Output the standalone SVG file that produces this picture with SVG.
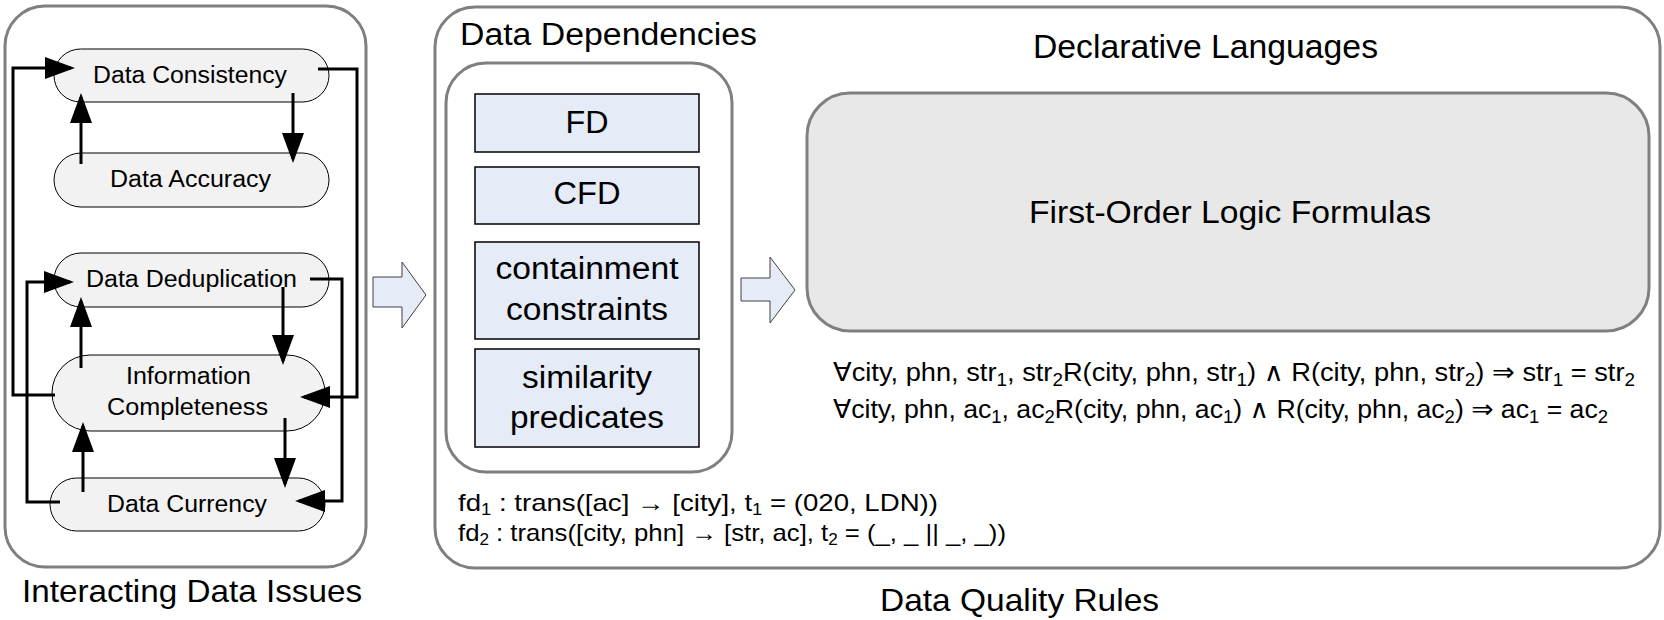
<svg xmlns="http://www.w3.org/2000/svg" width="1664" height="620" viewBox="0 0 1664 620">
<style>
text{font-family:"Liberation Sans",Arial,sans-serif;fill:#000}
.frame{fill:#fff;stroke:#7f7f7f;stroke-width:3}
.pill{fill:#f2f2f2;stroke:#000;stroke-width:1}
.dep{fill:#e5ebf7;stroke:#000;stroke-width:1.5}
.blk{fill:#e5ebf7;stroke:#404040;stroke-width:1}
.con{fill:none;stroke:#000;stroke-width:3;marker-end:url(#ah)}
.pt{font-size:23px}
.dt{font-size:31px;text-anchor:middle}
.math{font-family:"Liberation Sans","DejaVu Sans",sans-serif;font-size:26px}
.fdl{font-family:"Liberation Sans","DejaVu Sans",sans-serif;font-size:24px}
</style>
<defs>
<marker id="ah" markerUnits="userSpaceOnUse" markerWidth="31" markerHeight="22" refX="26" refY="11" orient="auto">
<path d="M0,0 L30,11 L0,22 Z" fill="#000"/>
</marker>
</defs>
<rect width="1664" height="620" fill="#fff"/>

<g id="issues-frame">
<rect class="frame" x="5" y="6" width="361" height="561" rx="40"/>
<text x="22" y="602" font-size="32" textLength="340" lengthAdjust="spacingAndGlyphs">Interacting Data Issues</text>
</g>

<g id="data-consistency">
<rect class="pill" x="54" y="49" width="275" height="53" rx="26.5"/>
<text class="pt" x="93" y="83" textLength="194" lengthAdjust="spacingAndGlyphs">Data Consistency</text>
</g>
<g id="data-accuracy">
<rect class="pill" x="54" y="153" width="275" height="54" rx="27"/>
<text class="pt" x="110" y="187" textLength="161" lengthAdjust="spacingAndGlyphs">Data Accuracy</text>
</g>
<g id="data-deduplication">
<rect class="pill" x="54" y="253" width="275" height="54" rx="27"/>
<text class="pt" x="86" y="287" textLength="211" lengthAdjust="spacingAndGlyphs">Data Deduplication</text>
</g>
<g id="information-completeness">
<rect class="pill" x="52" y="355" width="273" height="76" rx="38"/>
<text class="pt" x="126" y="384" textLength="125" lengthAdjust="spacingAndGlyphs">Information</text>
<text class="pt" x="107" y="415" textLength="161" lengthAdjust="spacingAndGlyphs">Completeness</text>
</g>
<g id="data-currency">
<rect class="pill" x="50" y="478" width="275" height="53" rx="26.5"/>
<text class="pt" x="107" y="512" textLength="160" lengthAdjust="spacingAndGlyphs">Data Currency</text>
</g>

<g id="quality-rules-frame">
<rect class="frame" x="435" y="7" width="1225" height="561" rx="40"/>
<text x="880" y="611" font-size="32" textLength="279" lengthAdjust="spacingAndGlyphs">Data Quality Rules</text>
</g>

<g id="data-dependencies">
<text x="460" y="45" font-size="31" textLength="297" lengthAdjust="spacingAndGlyphs">Data Dependencies</text>
<rect class="frame" x="446" y="63" width="286" height="409" rx="40"/>
</g>
<g id="fd">
<rect class="dep" x="475" y="94" width="224" height="58"/>
<text class="dt" x="587" y="133" textLength="43" lengthAdjust="spacingAndGlyphs">FD</text>
</g>
<g id="cfd">
<rect class="dep" x="475" y="167" width="224" height="57"/>
<text class="dt" x="587" y="204" textLength="67" lengthAdjust="spacingAndGlyphs">CFD</text>
</g>
<g id="containment">
<rect class="dep" x="475" y="242" width="224" height="97"/>
<text class="dt" x="587" y="279" textLength="183" lengthAdjust="spacingAndGlyphs">containment</text>
<text class="dt" x="587" y="320" textLength="162" lengthAdjust="spacingAndGlyphs">constraints</text>
</g>
<g id="similarity">
<rect class="dep" x="475" y="349" width="224" height="98"/>
<text class="dt" x="587" y="388" textLength="130" lengthAdjust="spacingAndGlyphs">similarity</text>
<text class="dt" x="587" y="428" textLength="154" lengthAdjust="spacingAndGlyphs">predicates</text>
</g>

<g id="fd-examples">
<text class="fdl" x="458" y="511" textLength="480" lengthAdjust="spacingAndGlyphs">fd<tspan font-size="16" dy="4">1</tspan><tspan dy="-4"> : trans([ac] → [city], t</tspan><tspan font-size="16" dy="4">1</tspan><tspan dy="-4"> = (020, LDN))</tspan></text>
<text class="fdl" x="458" y="541" textLength="548" lengthAdjust="spacingAndGlyphs">fd<tspan font-size="16" dy="4">2</tspan><tspan dy="-4"> : trans([city, phn] → [str, ac], t</tspan><tspan font-size="16" dy="4">2</tspan><tspan dy="-4"> = (_, _ || _, _))</tspan></text>
</g>

<g id="declarative-languages">
<text x="1033" y="58" font-size="34" textLength="345" lengthAdjust="spacingAndGlyphs">Declarative Languages</text>
</g>
<g id="first-order-logic">
<rect x="807" y="93" width="842" height="238" rx="43" fill="#e8e8e8" stroke="#808080" stroke-width="3"/>
<text x="1029" y="223" font-size="32" textLength="402" lengthAdjust="spacingAndGlyphs">First-Order Logic Formulas</text>
</g>

<g id="formulas">
<text class="math" x="833" y="381" textLength="802" lengthAdjust="spacingAndGlyphs">∀city, phn, str<tspan font-size="18" dy="5">1</tspan><tspan dy="-5">, str</tspan><tspan font-size="18" dy="5">2</tspan><tspan dy="-5">R(city, phn, str</tspan><tspan font-size="18" dy="5">1</tspan><tspan dy="-5">) ∧ R(city, phn, str</tspan><tspan font-size="18" dy="5">2</tspan><tspan dy="-5">) ⇒ str</tspan><tspan font-size="18" dy="5">1</tspan><tspan dy="-5"> = str</tspan><tspan font-size="18" dy="5">2</tspan></text>
<text class="math" x="833" y="418" textLength="775" lengthAdjust="spacingAndGlyphs">∀city, phn, ac<tspan font-size="18" dy="5">1</tspan><tspan dy="-5">, ac</tspan><tspan font-size="18" dy="5">2</tspan><tspan dy="-5">R(city, phn, ac</tspan><tspan font-size="18" dy="5">1</tspan><tspan dy="-5">) ∧ R(city, phn, ac</tspan><tspan font-size="18" dy="5">2</tspan><tspan dy="-5">) ⇒ ac</tspan><tspan font-size="18" dy="5">1</tspan><tspan dy="-5"> = ac</tspan><tspan font-size="18" dy="5">2</tspan></text>
</g>

<g id="connectors">
<path class="con" d="M55,395 H13 V68 H71"/>
<path class="con" d="M318,69 H357 V397 H304"/>
<path class="con" d="M293,93 V159"/>
<path class="con" d="M81,164 V97"/>
<path class="con" d="M60,502 H27 V282 H70"/>
<path class="con" d="M310,279 H342 V501 H299"/>
<path class="con" d="M283,287 V361"/>
<path class="con" d="M81,368 V301"/>
<path class="con" d="M285,418 V484"/>
<path class="con" d="M83,492 V426"/>
<polygon class="blk" points="373,277 402,277 402,262 426,295 402,328 402,307 373,307"/>
<polygon class="blk" points="741,278 770,278 770,257 795,290 770,323 770,301 741,301"/>
</g>
</svg>
